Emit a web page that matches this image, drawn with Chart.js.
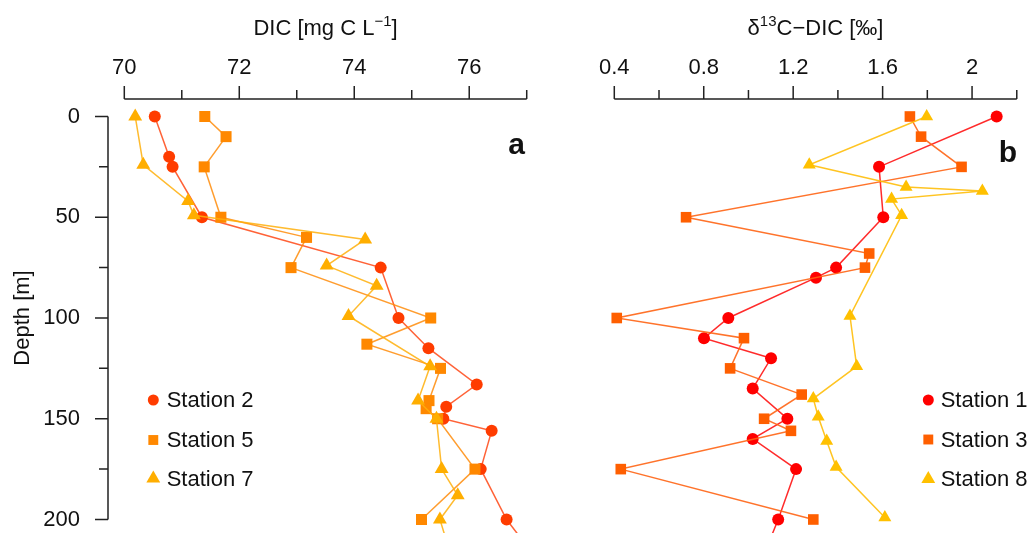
<!DOCTYPE html>
<html>
<head>
<meta charset="utf-8">
<script src="https://cdn.jsdelivr.net/npm/chart.js@4.4.1/dist/chart.umd.min.js"></script>
<style>
  html, body { margin: 0; padding: 0; background: #fff; }
  #wrap { position: relative; width: 1031px; height: 533px; overflow: hidden; background: #fff; }
  #panelA { position: absolute; left: 0; top: 0; }
  #panelB { position: absolute; left: 545px; top: 0; }
</style>
</head>
<body>
<div id="wrap">
  <canvas id="panelA" width="545" height="533"></canvas>
  <canvas id="panelB" width="486" height="533"></canvas>
</div>
<script>
// ---- Panel a: DIC concentration profiles ----
const depthSt2 = [0, 20, 25, 50, 75, 100, 115, 133, 144, 150, 156, 175, 200, 215];
const dicSt2   = [70.53, 70.78, 70.84, 71.35, 74.46, 74.77, 75.29, 76.13, 75.60, 75.55, 76.39, 76.20, 76.65, 77.05];

const depthSt5 = [0, 10, 25, 50, 60, 75, 100, 113, 125, 141, 145, 150, 175, 200];
const dicSt5   = [71.40, 71.77, 71.39, 71.68, 73.17, 72.90, 75.33, 74.22, 75.50, 75.30, 75.25, 75.45, 76.10, 75.17];

const depthSt7 = [0, 24, 42, 49, 61, 74, 84, 99, 124, 141, 150, 175, 188, 200, 212];
const dicSt7   = [70.19, 70.33, 71.11, 71.21, 74.19, 73.52, 74.39, 73.90, 75.32, 75.11, 75.43, 75.52, 75.80, 75.49, 75.62];

// ---- Panel b: d13C-DIC profiles ----
const depthSt1 = [0, 25, 50, 75, 80, 100, 110, 120, 135, 150, 160, 175, 200, 215];
const d13St1   = [2.11, 1.584, 1.603, 1.392, 1.302, 0.910, 0.801, 1.101, 1.019, 1.174, 1.019, 1.213, 1.133, 1.078];

const depthSt3 = [0, 10, 25, 50, 68, 75, 100, 110, 125, 138, 150, 156, 175, 200];
const d13St3   = [1.722, 1.772, 1.953, 0.721, 1.540, 1.521, 0.411, 0.980, 0.918, 1.238, 1.070, 1.190, 0.429, 1.290];

const depthSt8 = [0, 24, 35, 37, 41, 49, 99, 124, 140, 149, 161, 174, 199];
const d13St8   = [1.797, 1.272, 1.705, 2.046, 1.640, 1.685, 1.454, 1.484, 1.290, 1.312, 1.350, 1.392, 1.610];

// ---- Axis ticks ----
const dicTicks   = [70, 72, 74, 76];
const dicMinor   = [71, 73, 75, 77];
const d13Ticks   = [0.4, 0.8, 1.2, 1.6, 2];
const d13Minor   = [0.6, 1.0, 1.4, 1.8, 2.2];
const depthTicks = [0, 50, 100, 150, 200];
const depthMinor = [25, 75, 125, 175];

const FONT = '"Liberation Sans", Arial, Helvetica, sans-serif';
const INK = '#111111';
Chart.defaults.font.family = FONT;
Chart.defaults.color = INK;

function pts(xs, ys) { return ys.map((d, i) => ({ x: xs[i], y: d })); }

function series(label, xs, ys, color, lineColor, style, radius, order) {
  return {
    label,
    data: pts(xs, ys),
    showLine: true,
    borderColor: lineColor,
    borderWidth: 1.5,
    backgroundColor: color,
    pointBackgroundColor: color,
    pointBorderWidth: 0,
    pointStyle: style,
    pointRadius: radius,
    pointHoverRadius: radius,
    order
  };
}

// Superscript-aware centred text
function drawRich(ctx, parts, cx, baseline, size) {
  let w = 0;
  parts.forEach(p => {
    ctx.font = (p.sup ? Math.round(size * 0.7) : size) + 'px ' + FONT;
    p.w = ctx.measureText(p.t).width;
    w += p.w;
  });
  let x = cx - w / 2;
  ctx.textAlign = 'left';
  ctx.textBaseline = 'alphabetic';
  parts.forEach(p => {
    ctx.font = (p.sup ? Math.round(size * 0.7) : size) + 'px ' + FONT;
    ctx.fillText(p.t, x, p.sup ? baseline - size * 0.42 : baseline);
    x += p.w;
  });
}

// R-style axes (line spanning the labelled range, long and short ticks),
// axis titles, panel letter and legend.
const decor = {
  id: 'decor',
  afterDraw(chart, args, o) {
    const ctx = chart.ctx;
    const xs = chart.scales.x, ys = chart.scales.y;
    const top = chart.chartArea.top;
    ctx.save();
    ctx.strokeStyle = '#222';
    ctx.lineWidth = 1.5;
    ctx.beginPath();
    ctx.moveTo(xs.getPixelForValue(o.xLine[0]), top);
    ctx.lineTo(xs.getPixelForValue(o.xLine[1]), top);
    o.xMajor.forEach(v => { const p = xs.getPixelForValue(v); ctx.moveTo(p, top); ctx.lineTo(p, top - 13); });
    o.xMinor.forEach(v => { const p = xs.getPixelForValue(v); ctx.moveTo(p, top); ctx.lineTo(p, top - 9); });
    if (o.yAxis) {
      const left = chart.chartArea.left;
      ctx.moveTo(left, ys.getPixelForValue(o.yLine[0]));
      ctx.lineTo(left, ys.getPixelForValue(o.yLine[1]));
      o.yMajor.forEach(v => { const p = ys.getPixelForValue(v); ctx.moveTo(left, p); ctx.lineTo(left - 13, p); });
      o.yMinor.forEach(v => { const p = ys.getPixelForValue(v); ctx.moveTo(left, p); ctx.lineTo(left - 9, p); });
    }
    ctx.stroke();

    ctx.fillStyle = INK;
    const tcx = (xs.getPixelForValue(o.xLine[0]) + xs.getPixelForValue(o.xLine[1])) / 2;
    drawRich(ctx, o.title, tcx, 35, 22);

    if (o.yTitle) {
      ctx.save();
      const cy = (ys.getPixelForValue(o.yLine[0]) + ys.getPixelForValue(o.yLine[1])) / 2;
      ctx.translate(29, cy);
      ctx.rotate(-Math.PI / 2);
      ctx.font = '22px ' + FONT;
      ctx.textAlign = 'center';
      ctx.textBaseline = 'alphabetic';
      ctx.fillText(o.yTitle, 0, 0);
      ctx.restore();
    }

    ctx.font = 'bold 30px ' + FONT;
    ctx.textAlign = 'center';
    ctx.textBaseline = 'alphabetic';
    ctx.fillText(o.letter.t, o.letter.x, o.letter.y);

    // legend, in dataset order
    ctx.font = '22px ' + FONT;
    ctx.textAlign = 'left';
    ctx.textBaseline = 'middle';
    chart.data.datasets.forEach((ds, i) => {
      const y = o.legend.rows[i];
      ctx.fillStyle = ds.pointBackgroundColor;
      Chart.helpers.drawPoint(ctx, { pointStyle: ds.pointStyle, radius: o.legend.radius[i], rotation: 0, borderWidth: 0 }, o.legend.mx, y);
      ctx.fillStyle = INK;
      ctx.fillText(ds.label, o.legend.tx, y + 1);
    });
    ctx.restore();
  }
};

const Y_MIN = -8.68, Y_MAX = 206.7;

function makeChart(id, datasets, xMin, xMax, xTicks, showY, decorOpts) {
  return new Chart(document.getElementById(id), {
    type: 'scatter',
    data: { datasets },
    options: {
      responsive: false,
      devicePixelRatio: 1,
      animation: false,
      events: [],
      layout: { padding: 0, autoPadding: false },
      plugins: { legend: { display: false }, tooltip: { enabled: false }, decor: decorOpts },
      scales: {
        x: {
          type: 'linear',
          position: 'top',
          min: xMin, max: xMax,
          afterBuildTicks: s => { s.ticks = xTicks.map(v => ({ value: v })); },
          afterFit: s => { s.height = 99; s.paddingLeft = 0; s.paddingRight = 0; },
          grid: { display: false, drawTicks: false },
          border: { display: false },
          ticks: { font: { size: 22 }, color: INK, padding: 18, maxRotation: 0, autoSkip: false,
                   callback: v => String(v) }
        },
        y: {
          type: 'linear',
          reverse: true,
          min: Y_MIN, max: Y_MAX,
          display: showY,
          afterBuildTicks: s => { s.ticks = depthTicks.map(v => ({ value: v })); },
          afterFit: s => { s.width = showY ? 108 : 0; s.paddingTop = 0; s.paddingBottom = 0; },
          grid: { display: false, drawTicks: false },
          border: { display: false },
          ticks: { font: { size: 22 }, color: INK, padding: 28, autoSkip: false, callback: v => String(v) }
        }
      }
    },
    plugins: [decor]
  });
}

// panel a: chart area 108..545 px, 70 -> 124.3 px, 57.49 px per mg C/L
makeChart('panelA', [
  series('Station 2', dicSt2, depthSt2, '#ff3c00', 'rgba(255,70,20,0.85)', 'circle', 6, 2),
  series('Station 5', dicSt5, depthSt5, '#ff8800', 'rgba(255,140,10,0.85)', 'rect', 7.8, 1),
  series('Station 7', dicSt7, depthSt7, '#ffae00', 'rgba(255,175,10,0.85)', 'triangle', 8, 0)
], 69.7165, 77.318, dicTicks, true, {
  xLine: [70, 77], xMajor: dicTicks, xMinor: dicMinor,
  yAxis: true, yLine: [0, 200], yMajor: depthTicks, yMinor: depthMinor,
  title: [{ t: 'DIC [mg C L' }, { t: '\u22121', sup: true }, { t: ']' }],
  yTitle: 'Depth [m]',
  letter: { t: 'a', x: 516.7, y: 154 },
  legend: { mx: 153.3, tx: 166.7, rows: [400, 440, 478.5], radius: [5.5, 7, 8] }
});

// panel b: chart area 545..1031 px, 0.4 -> 614.3 px, 223.6 px per permil
makeChart('panelB', [
  series('Station 1', d13St1, depthSt1, '#ff0000', 'rgba(255,20,20,0.9)', 'circle', 6, 2),
  series('Station 3', d13St3, depthSt3, '#ff5f00', 'rgba(255,100,20,0.9)', 'rect', 7.5, 1),
  series('Station 8', d13St8, depthSt8, '#ffc000', 'rgba(255,190,10,0.9)', 'triangle', 7.5, 0)
], 0.0901, 2.2636, d13Ticks, false, {
  xLine: [0.4, 2.2], xMajor: d13Ticks, xMinor: d13Minor,
  yAxis: false,
  title: [{ t: '\u03b4' }, { t: '13', sup: true }, { t: 'C\u2212DIC [\u2030]' }],
  letter: { t: 'b', x: 463, y: 161.7 },
  legend: { mx: 383.3, tx: 395.7, rows: [400, 439.5, 479], radius: [5.5, 7, 8] }
});
</script>
</body>
</html>
